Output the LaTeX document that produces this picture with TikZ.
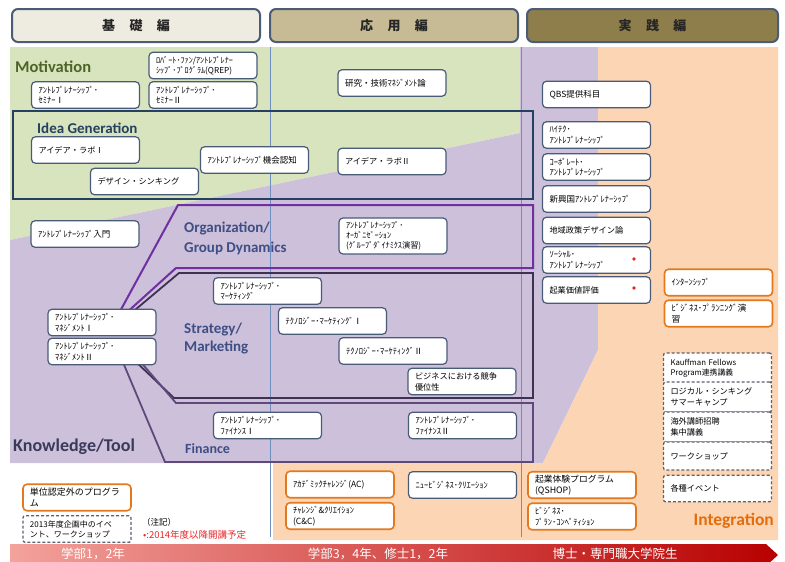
\documentclass[tikz,border=0pt]{standalone}
\usepackage{fontspec}
\setmainfont{Noto Sans CJK JP}
\newfontfamily\latf{Carlito}
\usepackage{tikz}

\definecolor{bggreen}{HTML}{D7E4BD}
\definecolor{bgpurple}{HTML}{CCC0DA}
\definecolor{bgpeach}{HTML}{FCD5B4}
\definecolor{boxline}{HTML}{4A5B78}
\definecolor{orangeline}{HTML}{E3781E}
\definecolor{dashline}{HTML}{5C6270}
\definecolor{ideanavy}{HTML}{254061}
\definecolor{orgpurple}{HTML}{7030A0}
\definecolor{strdark}{HTML}{3F3151}
\definecolor{finpurple}{HTML}{5F497A}
\definecolor{motgreen}{HTML}{4F6228}
\definecolor{areablue}{HTML}{3F4E84}
\definecolor{tooldark}{HTML}{3A3A5A}
\definecolor{intorange}{HTML}{E46C0A}
\definecolor{gridblue}{HTML}{6F8FC0}
\definecolor{tabA}{HTML}{EEECE1}
\definecolor{tabB}{HTML}{C7BB95}
\definecolor{tabC}{HTML}{8E7E4C}
\definecolor{tabline}{HTML}{4B5C74}
\definecolor{barleft}{HTML}{F3A29C}
\definecolor{barmid}{HTML}{E25555}
\definecolor{barright}{HTML}{B80000}
\definecolor{notered}{HTML}{E8262A}

\tikzstyle{course} = [rectangle, rounded corners=4pt, draw=boxline, line width=1.2pt, fill=white, minimum height=26.5pt, text width=94pt, inner xsep=7pt, inner ysep=1.5pt, align=left, font=\fontsize{8.5}{10.5}\selectfont]
\tikzstyle{big} = [font=\fontsize{8.2}{11}\selectfont]
\tikzstyle{extra} = [course, draw=orangeline, line width=1.6pt]
\tikzstyle{plan} = [course, draw=dashline, dash pattern=on 3pt off 2pt, line width=1.3pt, rounded corners=2pt]
\tikzstyle{tab} = [rectangle, rounded corners=6pt, draw=tabline, line width=2pt, minimum width=248pt, minimum height=33pt, font=\bfseries\fontsize{13}{15}\selectfont, text=black!85]
\tikzstyle{area} = [anchor=west, align=left, inner sep=0pt]
\tikzstyle{bartext} = [text=white, font=\fontsize{12.5}{14}\selectfont]

\begin{document}
\begin{tikzpicture}[x=1pt,y=-1pt]

\useasboundingbox (0,0) rectangle (785,562);
\clip (0,0) rectangle (785,562);
\fill[white] (0,0) rectangle (785,562);

\fill[bggreen] (10,47) -- (520,47) -- (520,133) -- (10,240) -- cycle;
\fill[bgpurple] (10,240) -- (520,133) -- (520,47) -- (598,47) -- (598,350) -- (543,463) -- (10,463) -- cycle;
\fill[bgpeach] (598,47) -- (778,47) -- (778,540) -- (273,540) -- (273,463) -- (543,463) -- (598,350) -- cycle;

\foreach \x in {270,521}
{
\draw[gridblue, line width=0.8pt] (\x,47) -- (\x,537);
}

\shade[left color=barleft, middle color=barmid, right color=barright] (10,544) -- (766,544) -- (778,555) -- (766,566) -- (10,566) -- cycle;
\node[bartext] (nen1) at (93,554) {学部1，2年};
\node[bartext] (nen3) at (378,554) {学部3，4年、修士1，2年};
\node[bartext] (nen5) at (615,554) {博士・専門職大学院生};

\node[tab, fill=tabA] (kiso) at (136,25.5) {基\hspace{1.1em}礎\hspace{1.1em}編};
\node[tab, fill=tabB] (oyo) at (394,25.5) {応\hspace{1.1em}用\hspace{1.1em}編};
\node[tab, fill=tabC, minimum width=251pt] (jissen) at (652.5,25.5) {実\hspace{1.1em}践\hspace{1.1em}編};

\draw[ideanavy, line width=2.2pt] (13,111) rectangle (533,199);

\draw[orgpurple, line width=2pt] (118,315) -- (178,205) -- (533,205) -- (533,268) -- (176,268) -- (124,315);
\draw[strdark, line width=1.8pt] (129,315) -- (179,273) -- (533,273) -- (533,398) -- (174,398) -- (134,360);
\draw[finpurple, line width=1.8pt] (139,360) -- (176,403) -- (533,403) -- (533,462) -- (165,462) -- (122,360);

\node[area, text=motgreen, font=\latf\bfseries\fontsize{16.5}{18}\selectfont] (motiv) at (15,67) {Motivation};
\node[area, text=ideanavy, font=\latf\bfseries\fontsize{15}{16}\selectfont] (ideagen) at (37,128) {Idea Generation};
\node[area, text=areablue, font=\latf\bfseries\fontsize{15}{20}\selectfont] (orgarea) at (184,238) {Organization/\\Group Dynamics};
\node[area, text=areablue, font=\latf\bfseries\fontsize{15}{18}\selectfont] (strarea) at (184,339) {Strategy/\\Marketing};
\node[area, text=areablue, font=\latf\bfseries\fontsize{14}{16}\selectfont] (finarea) at (185,449) {Finance};
\node[area, text=tooldark, font=\latf\bfseries\fontsize{18}{20}\selectfont] (tool) at (13,447) {Knowledge/Tool};
\node[area, anchor=east, text=intorange, font=\latf\bfseries\fontsize{17.5}{19}\selectfont] (integ) at (774,521) {Integration};

\node[course, font=\fontsize{8.2}{10}\selectfont] (qrep) at (203,65.5) {ﾛﾊﾞｰﾄ･ﾌｧﾝ/ｱﾝﾄﾚﾌﾟﾚﾅｰ\\ｼｯﾌﾟ･ﾌﾟﾛｸﾞﾗﾑ(QREP)};
\node[course] (semA) at (85.5,95) {ｱﾝﾄﾚﾌﾟﾚﾅｰｼｯﾌﾟ･\\ｾﾐﾅｰⅠ};
\node[course] (semB) at (203,95) {ｱﾝﾄﾚﾌﾟﾚﾅｰｼｯﾌﾟ･\\ｾﾐﾅｰⅡ};
\node[course, big] (labA) at (85.5,150) {アイデア・ラボⅠ};
\node[course, big] (design) at (144.5,181.5) {デザイン・シンキング};
\node[course] (kikai) at (254.5,160) {ｱﾝﾄﾚﾌﾟﾚﾅｰｼｯﾌﾟ機会認知};
\node[course, big] (labB) at (392,161.5) {アイデア・ラボⅡ};
\node[course] (kenkyu) at (392,83) {研究・技術ﾏﾈｼﾞﾒﾝﾄ論};
\node[course] (intro) at (85,234) {ｱﾝﾄﾚﾌﾟﾚﾅｰｼｯﾌﾟ入門};
\node[course] (mgmtA) at (102,322.5) {ｱﾝﾄﾚﾌﾟﾚﾅｰｼｯﾌﾟ･\\ﾏﾈｼﾞﾒﾝﾄⅠ};
\node[course] (mgmtB) at (102,351.5) {ｱﾝﾄﾚﾌﾟﾚﾅｰｼｯﾌﾟ･\\ﾏﾈｼﾞﾒﾝﾄⅡ};
\node[course, minimum height=36pt, font=\fontsize{8.2}{10}\selectfont] (orggd) at (393,236) {ｱﾝﾄﾚﾌﾟﾚﾅｰｼｯﾌﾟ･\\ｵｰｶﾞﾆｾﾞｰｼｮﾝ\\(ｸﾞﾙｰﾌﾟﾀﾞｲﾅﾐｸｽ演習)};
\node[course] (mkt) at (267.5,291) {ｱﾝﾄﾚﾌﾟﾚﾅｰｼｯﾌﾟ･\\ﾏｰｹﾃｨﾝｸﾞ};
\node[course] (techA) at (332.5,321) {ﾃｸﾉﾛｼﾞｰ･ﾏｰｹﾃｨﾝｸﾞⅠ};
\node[course] (techB) at (393,351) {ﾃｸﾉﾛｼﾞｰ･ﾏｰｹﾃｨﾝｸﾞⅡ};
\node[course, big] (kyoso) at (462,381.5) {ビジネスにおける競争\\優位性};
\node[course] (finA) at (267.5,425.5) {ｱﾝﾄﾚﾌﾟﾚﾅｰｼｯﾌﾟ･\\ﾌｧｲﾅﾝｽⅠ};
\node[course] (finB) at (462.5,425.5) {ｱﾝﾄﾚﾌﾟﾚﾅｰｼｯﾌﾟ･\\ﾌｧｲﾅﾝｽⅡ};

\node[course] (qbs) at (596.5,94.5) {QBS提供科目};
\node[course] (hitech) at (596.5,135) {ﾊｲﾃｸ･\\ｱﾝﾄﾚﾌﾟﾚﾅｰｼｯﾌﾟ};
\node[course] (corp) at (596.5,167) {ｺｰﾎﾟﾚｰﾄ･\\ｱﾝﾄﾚﾌﾟﾚﾅｰｼｯﾌﾟ};
\node[course] (shinko) at (596.5,199) {新興国ｱﾝﾄﾚﾌﾟﾚﾅｰｼｯﾌﾟ};
\node[course, big] (chiiki) at (596.5,230.5) {地域政策デザイン論};
\node[course] (social) at (596.5,260) {ｿｰｼｬﾙ･\\ｱﾝﾄﾚﾌﾟﾚﾅｰｼｯﾌﾟ};
\node[course, big] (kachi) at (596.5,290) {起業価値評価};
\fill[notered] (634,259) circle (1.8pt);
\fill[notered] (634,288) circle (1.8pt);

\node[extra] (intern) at (718.5,282.5) {ｲﾝﾀｰﾝｼｯﾌﾟ};
\node[extra, font=\fontsize{8.8}{11}\selectfont] (bplan) at (718.5,313.5) {ﾋﾞｼﾞﾈｽ･ﾌﾟﾗﾝﾆﾝｸﾞ演\\習};
\node[extra] (acch) at (340,484.5) {ｱｶﾃﾞﾐｯｸﾁｬﾚﾝｼﾞ(AC)};
\node[extra] (ccre) at (340,516) {ﾁｬﾚﾝｼﾞ\&ｸﾘｴｲｼｮﾝ\\(C\&C)};
\node[course] (newbiz) at (462.5,485) {ﾆｭｰﾋﾞｼﾞﾈｽ･ｸﾘｴｰｼｮﾝ};
\node[extra, font=\fontsize{8.8}{11}\selectfont] (qshop) at (582,485) {起業体験プログラム\\(QSHOP)};
\node[extra] (bpcomp) at (582,516.5) {ﾋﾞｼﾞﾈｽ･\\ﾌﾟﾗﾝ･ｺﾝﾍﾟﾃｨｼｮﾝ};

\node[plan, font=\fontsize{7.8}{10}\selectfont, minimum height=30pt] (kauff) at (717.5,368) {Kauffman Fellows\\Program連携講義};
\node[plan, big, minimum height=30pt] (logic) at (717.5,397) {ロジカル・シンキング\\サマーキャンプ};
\node[plan, big, minimum height=30pt] (kaigai) at (717.5,427) {海外講師招聘\\集中講義};
\node[plan, big, minimum height=28pt] (wshop) at (717.5,456) {ワークショップ};
\node[plan, big] (event) at (717.5,488.5) {各種イベント};

\node[extra, font=\fontsize{9}{11}\selectfont] (legA) at (77,497.5) {単位認定外のプログラ\\ム};
\node[plan, font=\fontsize{8}{10}\selectfont] (legB) at (77,529) {2013年度企画中のイベ\\ント、ワークショップ};
\node[anchor=west, inner sep=0pt, font=\fontsize{8.5}{10}\selectfont] (chuki) at (142,522) {（注記）};
\node[anchor=west, inner sep=0pt, text=notered, font=\fontsize{9.5}{11}\selectfont] (yotei) at (143,535) {•:2014年度以降開講予定};

\end{tikzpicture}
\end{document}
